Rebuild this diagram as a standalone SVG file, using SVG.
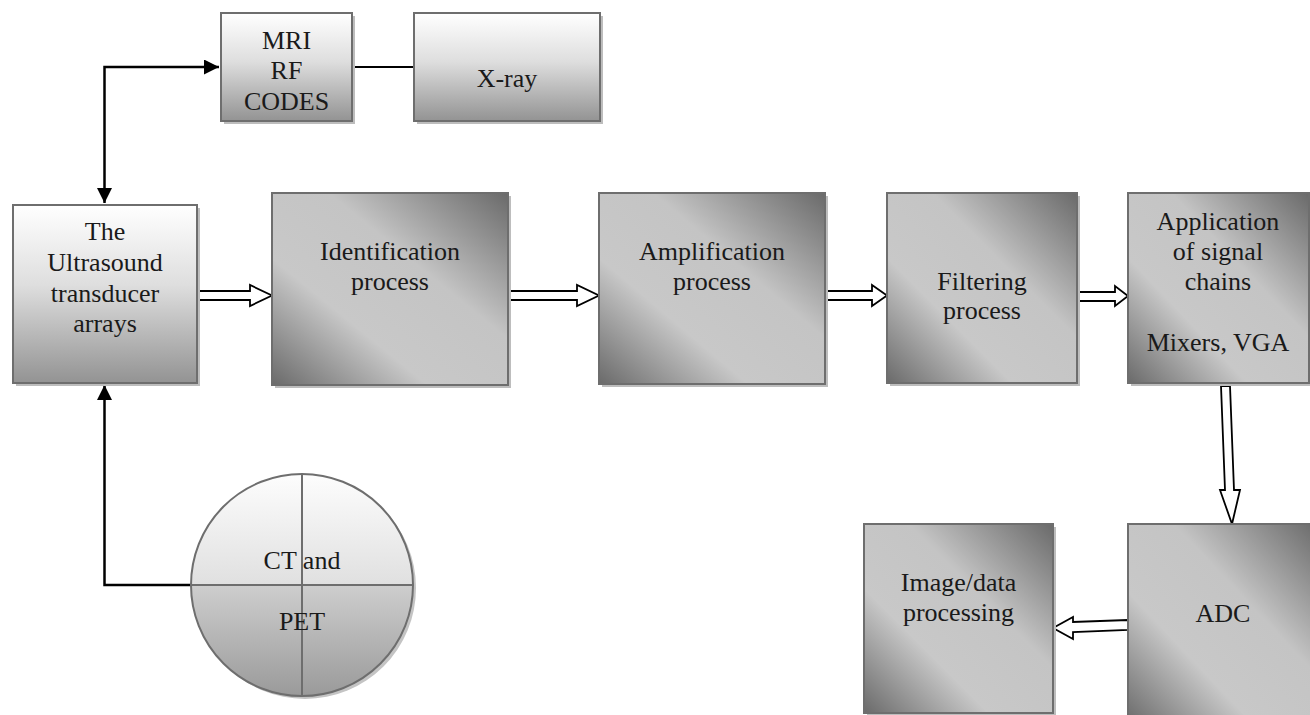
<svg xmlns="http://www.w3.org/2000/svg" width="1310" height="715" viewBox="0 0 1310 715">
<defs>
<linearGradient id="gv" x1="0" y1="0" x2="0" y2="1">
<stop offset="0" stop-color="#ffffff"/>
<stop offset="0.45" stop-color="#dedede"/>
<stop offset="1" stop-color="#939393"/>
</linearGradient>
<linearGradient id="gd" x1="0" y1="1" x2="1" y2="0">
<stop offset="0" stop-color="#6a6a6a"/>
<stop offset="0.33" stop-color="#c8c8c8"/>
<stop offset="0.62" stop-color="#c4c4c4"/>
<stop offset="1" stop-color="#6a6a6a"/>
</linearGradient>
<linearGradient id="gc" x1="0" y1="0" x2="0" y2="1">
<stop offset="0" stop-color="#fdfdfd"/>
<stop offset="0.5" stop-color="#e0e0e0"/>
<stop offset="0.5" stop-color="#cecece"/>
<stop offset="1" stop-color="#9a9a9a"/>
</linearGradient>
<marker id="ah" viewBox="0 0 10 10" refX="10" refY="5" markerWidth="6" markerHeight="6" markerUnits="strokeWidth" orient="auto-start-reverse">
<path d="M0,0 L10,5 L0,10 Z" fill="#000"/>
</marker>
<style>
.sh{fill:#bdbdbd;}
.bv{fill:url(#gv);stroke:#6e6e6e;stroke-width:2;}
.bd{fill:url(#gd);stroke:#6e6e6e;stroke-width:2;}
.t{font-family:"Liberation Serif","Times New Roman",serif;font-size:26px;fill:#1a1a1a;text-anchor:middle;}
.ln{fill:none;stroke:#000;stroke-width:2.5;}
.ha{fill:#fff;stroke:#000;stroke-width:1.8;stroke-linejoin:miter;}
</style>
</defs>

<g id="connectors">
<path class="ln" d="M104.5,203 L104.5,67 L219,67" marker-start="url(#ah)" marker-end="url(#ah)"/>
<path class="ln" d="M192,585 L104.5,585 L104.5,385" marker-end="url(#ah)"/>
<line x1="352" y1="67" x2="414" y2="67" stroke="#000" stroke-width="2"/>
<polygon class="ha" points="197,291 250,291 250,285 272,295.5 250,306 250,300 197,300"/>
<polygon class="ha" points="508,291 577,291 577,285 599,295.5 577,306 577,300 508,300"/>
<polygon class="ha" points="825,291 872,291 872,285 887,295.5 872,306 872,300 825,300"/>
<polygon class="ha" points="1077,292 1115,292 1115,286 1128,296 1115,306 1115,301 1077,301"/>
<polygon class="ha" points="1221,386 1230,386 1234,490 1240,490 1232,524 1220,490 1225,490"/>
<polygon class="ha" points="1128,620 1073,622 1073,617 1053,628 1073,639 1073,632 1128,630"/>
</g>

<g id="mri">
<rect class="sh" x="224" y="16" width="131" height="108"/>
<rect class="bv" x="221" y="13" width="131" height="108"/>
<text class="t" x="286.5" y="49">MRI</text>
<text class="t" x="286.5" y="79">RF</text>
<text class="t" x="286.5" y="110">CODES</text>
</g>

<g id="xray">
<rect class="sh" x="417" y="16" width="186" height="108"/>
<rect class="bv" x="414" y="13" width="186" height="108"/>
<text class="t" x="507" y="87">X-ray</text>
</g>

<g id="ultrasound">
<rect class="sh" x="16" y="208" width="184" height="178"/>
<rect class="bv" x="13" y="205" width="184" height="178"/>
<text class="t" x="105" y="240">The</text>
<text class="t" x="105" y="271">Ultrasound</text>
<text class="t" x="105" y="302">transducer</text>
<text class="t" x="105" y="332">arrays</text>
</g>

<g id="identification">
<rect class="sh" x="275" y="196" width="236" height="192"/>
<rect class="bd" x="272" y="193" width="236" height="192"/>
<text class="t" x="390" y="260">Identification</text>
<text class="t" x="390" y="290">process</text>
</g>

<g id="amplification">
<rect class="sh" x="602" y="196" width="226" height="191"/>
<rect class="bd" x="599" y="193" width="226" height="191"/>
<text class="t" x="712" y="260">Amplification</text>
<text class="t" x="712" y="290">process</text>
</g>

<g id="filtering">
<rect class="sh" x="890" y="196" width="190" height="190"/>
<rect class="bd" x="887" y="193" width="190" height="190"/>
<text class="t" x="982" y="290">Filtering</text>
<text class="t" x="982" y="319">process</text>
</g>

<g id="application">
<rect class="sh" x="1131" y="196" width="182" height="190"/>
<rect class="bd" x="1128" y="193" width="181" height="190"/>
<text class="t" x="1218" y="230">Application</text>
<text class="t" x="1218" y="260">of signal</text>
<text class="t" x="1218" y="290">chains</text>
<text class="t" x="1218" y="351">Mixers, VGA</text>
</g>

<g id="adc">
<rect class="sh" x="1131" y="527" width="182" height="200"/>
<rect class="bd" x="1128" y="524" width="190" height="200"/>
<text class="t" x="1223" y="622">ADC</text>
</g>

<g id="image">
<rect class="sh" x="867" y="527" width="189" height="200"/>
<rect class="bd" x="864" y="524" width="189" height="189"/>
<text class="t" x="958.5" y="591">Image/data</text>
<text class="t" x="958.5" y="621">processing</text>
</g>

<g id="ctpet">
<circle cx="305" cy="588" r="111" fill="#c4c4c4"/>
<circle cx="302" cy="585" r="111" fill="url(#gc)" stroke="#6e6e6e" stroke-width="2"/>
<line x1="302" y1="474" x2="302" y2="696" stroke="#6e6e6e" stroke-width="2"/>
<line x1="191" y1="585" x2="413" y2="585" stroke="#6e6e6e" stroke-width="2"/>
<text class="t" x="302" y="569">CT and</text>
<text class="t" x="302" y="630">PET</text>
</g>
</svg>
